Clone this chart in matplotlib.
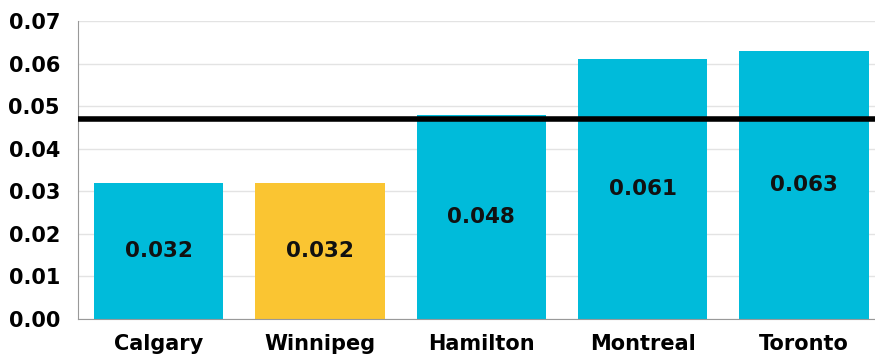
import matplotlib.pyplot as plt

cities = ['Calgary', 'Winnipeg', 'Hamilton', 'Montreal', 'Toronto']
values = [0.032, 0.032, 0.048, 0.061, 0.063]
bar_colors = ['#00BBDA', '#FAC532', '#00BBDA', '#00BBDA', '#00BBDA']
average = 0.047
y_ticks = [0.00, 0.01, 0.02, 0.03, 0.04, 0.05, 0.06, 0.07]

plt.rcParams['font.family'] = 'DejaVu Sans'
plt.rcParams['font.weight'] = 'bold'

fig = plt.figure(figsize=(8.75, 3.61), dpi=100)
ax = fig.add_axes([78 / 875, 1 - 319 / 361, 797 / 875, 298 / 361])

x = range(len(cities))
bars = ax.bar(x, values, width=0.8, color=bar_colors, zorder=2)
for xi, v in zip(x, values):
    ax.text(xi, v / 2, f'{v:.3f}', ha='center', va='center',
            fontsize=15.5, fontweight='bold', color='#111111', zorder=3)

# overall average
ax.axhline(average, color='black', linewidth=4, zorder=4)

ax.set_ylim(0, 0.07)
ax.set_xlim(-0.5, 4.44)
ax.set_yticks(y_ticks)
ax.set_yticklabels([f'{t:.2f}' for t in y_ticks])
ax.set_xticks(list(x))
ax.set_xticklabels(cities)
ax.tick_params(axis='both', length=0, labelsize=15)
ax.tick_params(axis='y', pad=13)
ax.tick_params(axis='x', pad=11)
for lbl in ax.get_xticklabels() + ax.get_yticklabels():
    lbl.set_fontweight('bold')

ax.yaxis.grid(True, color='#e3e3e3', linewidth=1, zorder=0)
ax.set_axisbelow(True)
for side in ['top', 'right']:
    ax.spines[side].set_visible(False)
ax.spines['left'].set_color('#999999')
ax.spines['bottom'].set_color('#999999')

fig.savefig('out.png', dpi=100)
